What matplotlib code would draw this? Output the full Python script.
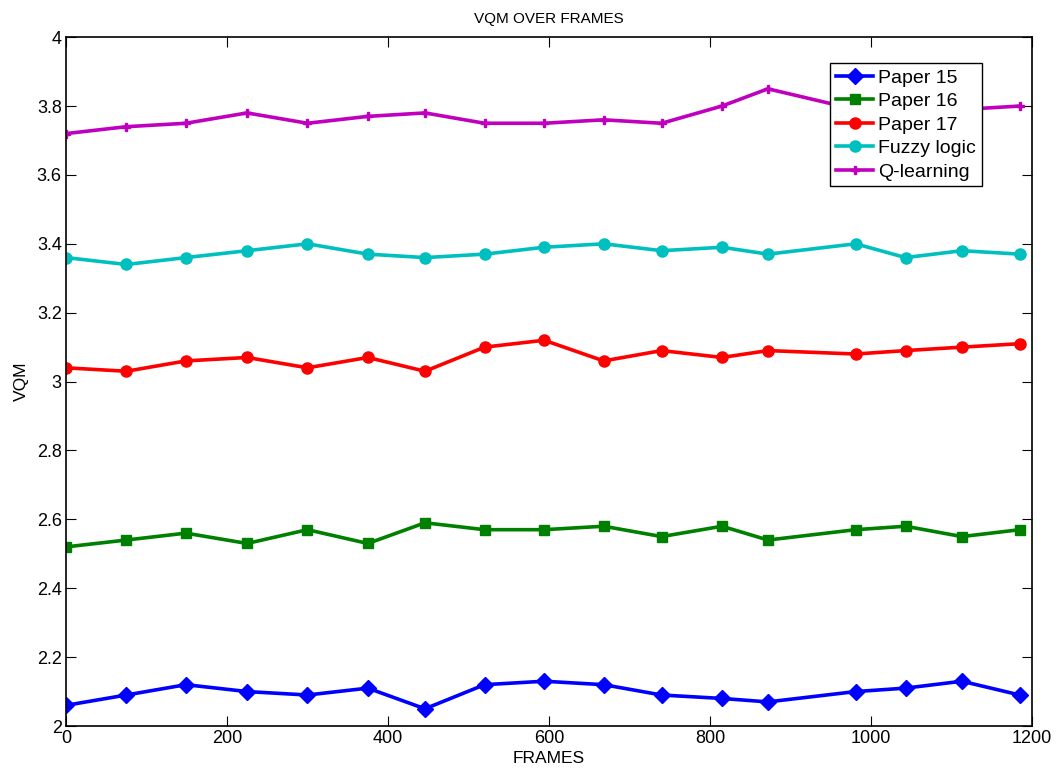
import matplotlib
matplotlib.use("Agg")
import matplotlib.pyplot as plt

plt.rcParams['font.family'] = ['Liberation Sans', 'DejaVu Sans']

frames = [0, 75, 149, 225, 300, 375, 446, 520, 594, 668, 740, 815, 872, 981, 1043, 1113, 1185]
paper15 = [2.06, 2.09, 2.12, 2.10, 2.09, 2.11, 2.05, 2.12, 2.13, 2.12, 2.09, 2.08, 2.07, 2.10, 2.11, 2.13, 2.09]
paper16 = [2.52, 2.54, 2.56, 2.53, 2.57, 2.53, 2.59, 2.57, 2.57, 2.58, 2.55, 2.58, 2.54, 2.57, 2.58, 2.55, 2.57]
paper17 = [3.04, 3.03, 3.06, 3.07, 3.04, 3.07, 3.03, 3.10, 3.12, 3.06, 3.09, 3.07, 3.09, 3.08, 3.09, 3.10, 3.11]
fuzzy = [3.36, 3.34, 3.36, 3.38, 3.40, 3.37, 3.36, 3.37, 3.39, 3.40, 3.38, 3.39, 3.37, 3.40, 3.36, 3.38, 3.37]
qlearn = [3.72, 3.74, 3.75, 3.78, 3.75, 3.77, 3.78, 3.75, 3.75, 3.76, 3.75, 3.80, 3.85, 3.79, 3.78, 3.79, 3.80]

xticks = [0, 200, 400, 600, 800, 1000, 1200]
yticks = [2, 2.2, 2.4, 2.6, 2.8, 3, 3.2, 3.4, 3.6, 3.8, 4]
ytick_labels = ['2', '2.2', '2.4', '2.6', '2.8', '3', '3.2', '3.4', '3.6', '3.8', '4']

fig = plt.figure(figsize=(10.57, 7.74), dpi=100)
ax = fig.add_axes([0.0624, 0.062, 0.9139, 0.890])

lw = 2.6
ax.plot(frames, paper15, color=(0, 0, 1), lw=lw, marker='D', ms=8.5, label='Paper 15')
ax.plot(frames, paper16, color=(0, 0.5, 0), lw=lw, marker='s', ms=7.5, label='Paper 16')
ax.plot(frames, paper17, color=(1, 0, 0), lw=lw, marker='o', ms=8, label='Paper 17')
ax.plot(frames, fuzzy, color=(0, 0.75, 0.75), lw=lw, marker='o', ms=8, label='Fuzzy logic')
ax.plot(frames, qlearn, color=(0.75, 0, 0.75), lw=lw, marker='P', ms=6, label='Q-learning')

ax.set_xlim(0, 1200)
ax.set_ylim(2, 4)
ax.set_xticks(xticks)
ax.set_xticklabels([str(t) for t in xticks])
ax.set_yticks(yticks)
ax.set_yticklabels(ytick_labels)
ax.tick_params(direction='in', top=True, right=True, labelsize=13, length=7, width=0.8, pad=3)
for s in ax.spines.values():
    s.set_linewidth(1.2)

ax.set_title('VQM OVER FRAMES', fontsize=11, pad=10)
ax.set_xlabel('FRAMES', fontsize=12.5, labelpad=3)
ax.set_ylabel('VQM', fontsize=12.5, labelpad=6)

leg = ax.legend(loc='upper right', bbox_to_anchor=(0.948, 0.962), borderaxespad=0,
                fancybox=False, edgecolor='black', fontsize=14, handlelength=1.9,
                handletextpad=0.25, labelspacing=0.3, borderpad=0.3, framealpha=1)
leg.get_frame().set_linewidth(1.0)

fig.savefig('out.png', dpi=100)
